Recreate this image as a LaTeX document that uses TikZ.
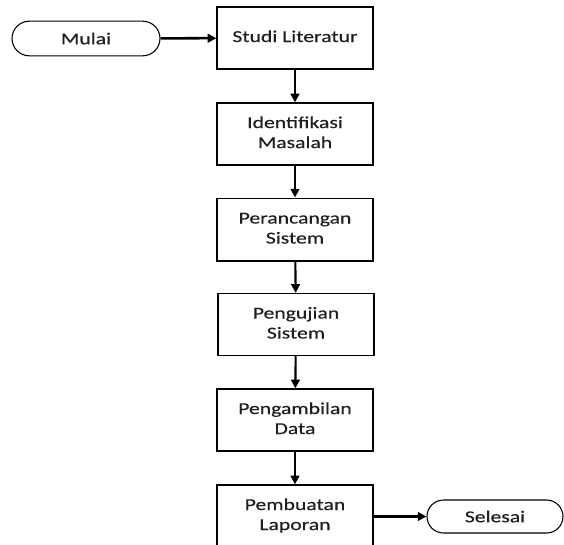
\documentclass[tikz,border=0pt]{standalone}
\usepackage{fontspec}
\usepackage{graphicx}
\setmainfont{Carlito}[FakeBold=0.25]
\usetikzlibrary{arrows.meta,shapes.misc}
\newcommand\sx[1]{\raisebox{4pt}{\scalebox{1.3}[1]{\begin{tabular}{@{}c@{}}#1\end{tabular}}}}
\newcommand\tx[1]{\scalebox{1.3}[1]{#1}}
\tikzset{
  boxnode/.style={draw=black, line width=1pt, fill=white, rectangle, minimum width=117pt, minimum height=46.5pt, inner sep=0pt, font=\fontsize{12.5}{15}\selectfont, text=black!88},
  termnode/.style={draw=black, line width=0.8pt, fill=white, rounded rectangle, minimum height=26pt, inner sep=0pt, font=\fontsize{12.5}{15}\selectfont, text=black!88},
  flow/.style={line width=1.6pt, -{Triangle[length=6.5pt,width=6.5pt]}}
}
\begin{document}
\begin{tikzpicture}[x=0.75pt,y=-0.75pt]
\useasboundingbox (0,0) rectangle (564,544);
\clip (0,0) rectangle (564,544);
\node[termnode, minimum width=111pt] (mulai) at (86,38.5) {\tx{Mulai}};
\node[boxnode] (studi) at (295,38) {\sx{Studi Literatur}};
\node[boxnode] (ident) at (295,134) {\sx{Identifikasi\\Masalah}};
\node[boxnode, minimum height=47pt] (peran) at (295,229.5) {\sx{Perancangan\\Sistem}};
\node[boxnode] (uji) at (296,324.5) {\sx{Pengujian\\Sistem}};
\node[boxnode] (ambil) at (295,420) {\sx{Pengambilan\\Data}};
\node[boxnode] (buat) at (295,516) {\sx{Pembuatan\\Laporan}};
\node[termnode, minimum width=102pt, minimum height=24.75pt] (selesai) at (495,516.5) {\tx{Selesai}};
\draw[flow, line width=1.9pt] (mulai) -- (studi);
\draw[flow] (studi) -- (ident);
\draw[flow] (ident) -- (peran);
\draw[flow] (peran) -- (uji);
\draw[flow] (uji) -- (ambil);
\draw[flow] (ambil) -- (buat);
\draw[flow] (buat.east |- selesai) -- (selesai);
\end{tikzpicture}
\end{document}
